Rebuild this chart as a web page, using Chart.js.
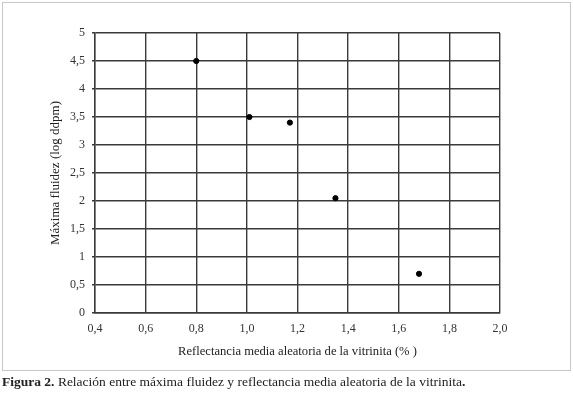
<!DOCTYPE html>
<html>
<head>
<meta charset="utf-8">
<script src="https://cdn.jsdelivr.net/npm/chart.js@4.4.0/dist/chart.umd.min.js"></script>
<style>
  body{margin:0;background:#fff;width:573px;height:394px;overflow:hidden;position:relative;font-family:"Liberation Serif","DejaVu Serif",serif;}
  #frame{position:absolute;left:2px;top:2px;width:567px;height:367px;border:1px solid #c8c8c8;}
  #wrap{position:absolute;left:0;top:0;width:573px;height:394px;}
  #caption{position:absolute;left:2px;top:374px;font-size:13.5px;color:#222;white-space:nowrap;}
</style>
</head>
<body>
<div id="frame"></div>
<div id="wrap"><canvas id="fluidezChart" width="573" height="394"></canvas></div>
<div id="caption"><b>Figura 2.</b> Relación entre máxima fluidez y reflectancia media aleatoria de la vitrinita<b>.</b></div>

<script>
  /*** datos ***/
  const reflectancia = [0.80, 1.01, 1.17, 1.35, 1.68];
  const fluidez = [4.50, 3.50, 3.40, 2.05, 0.70];
  const xTicks = [0.4, 0.6, 0.8, 1.0, 1.2, 1.4, 1.6, 1.8, 2.0];
  const yTicks = [0, 0.5, 1, 1.5, 2, 2.5, 3, 3.5, 4, 4.5, 5];

  const points = reflectancia.map((x, i) => ({x: x, y: fluidez[i]}));
  const coma = (v, dec) => v.toFixed(dec).replace('.', ',');
  const gridColor = '#3a3a3a';
  const font = {family: '"Liberation Serif", serif', size: 12};

  const ctx = document.getElementById('fluidezChart');
  new Chart(ctx, {
    type: 'scatter',
    data: {
      datasets: [{
        data: points,
        backgroundColor: '#000',
        borderColor: '#000',
        pointRadius: 2.6,
        pointHoverRadius: 2.6
      }]
    },
    options: {
      responsive: false,
      animation: false,
      layout: {padding: {left: 44, top: 33, right: 73, bottom: 31}},
      plugins: {legend: {display: false}, tooltip: {enabled: false}},
      scales: {
        x: {
          type: 'linear',
          min: 0.4, max: 2.0,
          afterBuildTicks: s => { s.ticks = xTicks.map(v => ({value: v})); },
          afterFit: s => { s.height = 50; },
          grid: {color: gridColor, lineWidth: 1.4, drawTicks: false},
          border: {color: gridColor, width: 1.4},
          ticks: {color: '#333', font: font, padding: 9, maxRotation: 0,
                  callback: v => coma(v, 1)},
          title: {display: true, text: 'Reflectancia media aleatoria de la vitrinita (% )',
                  color: '#222', font: {family: '"Liberation Serif", serif', size: 12.6},
                  padding: {top: 0, bottom: 4}}
        },
        y: {
          type: 'linear',
          min: 0, max: 5,
          afterBuildTicks: s => { s.ticks = yTicks.map(v => ({value: v})); },
          afterFit: s => { s.width = 51; },
          grid: {color: gridColor, lineWidth: 1.4, drawTicks: true, tickLength: 3},
          border: {color: gridColor, width: 1.4},
          ticks: {color: '#333', font: font, padding: 7,
                  callback: v => Number.isInteger(v) ? String(v) : coma(v, 1)},
          title: {display: true, text: 'Máxima fluidez (log ddpm)',
                  color: '#222', font: {family: '"Liberation Serif", serif', size: 13},
                  padding: {top: 4, bottom: 0}}
        }
      }
    }
  });
</script>
</body>
</html>
